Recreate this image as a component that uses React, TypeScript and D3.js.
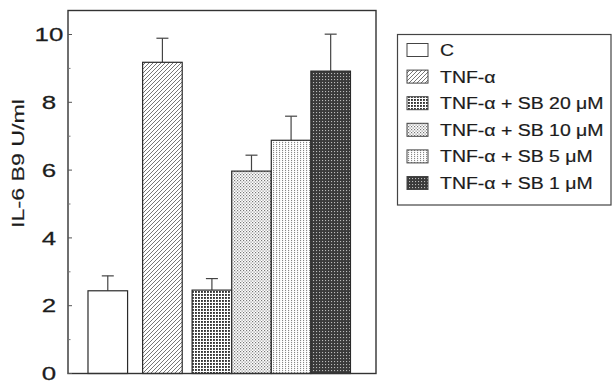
import React from 'react';
import * as d3 from 'd3';

const CATEGORIES = ['C', 'TNF-α', 'TNF-α + SB 20 μM', 'TNF-α + SB 10 μM', 'TNF-α + SB 5 μM', 'TNF-α + SB 1 μM'];
const MEANS = [2.44, 9.18, 2.46, 5.97, 6.88, 8.92];
const ERRORS = [0.44, 0.71, 0.34, 0.47, 0.71, 1.09];
const PATTERNS = ['none', 'hatch', 'grid', 'stipple', 'vstip', 'dark'];
const MAJOR_TICKS = [0, 2, 4, 6, 8, 10];
const MINOR_TICKS = [1, 3, 5, 7, 9];
const Y_LABEL = 'IL-6 B9 U/ml';

const W = 612;
const H = 383;
const plot = { left: 68, right: 376, top: 10.5, bottom: 373.5 };
// layout in bar-width units
const LEFT_PAD = 0.505;
const GAP_AFTER = [0.38, 0.25, 0, 0, 0];
const INK = '#1c1c1c';
const FONT = 'Arial, "Liberation Sans", Helvetica, sans-serif';

export default function App() {
  const y = d3.scaleLinear().domain([0, 10]).range([plot.bottom, 34.5]);
  const x = d3.scaleLinear().domain([0, 7.78]).range([plot.left, plot.right]);
  const bw = x(1) - x(0);

  const starts: number[] = [];
  let acc = LEFT_PAD;
  CATEGORIES.forEach((_, i) => {
    starts.push(acc);
    acc += 1 + (GAP_AFTER[i] || 0);
  });

  const fillFor = (p: string) => (p === 'none' ? '#fff' : `url(#${p})`);

  const legendX = 407;
  const legendY0 = 50;
  const legendStep = 26.6;

  return (
    <svg width={W} height={H} style={{ position: 'absolute', left: 0, top: 0, background: '#fff' }}>
      <defs>
        <pattern id="hatch" width="4" height="4" patternUnits="userSpaceOnUse">
          <rect width="4" height="4" fill="#fff" />
          <path d="M-1,1 l2,-2 M0,4 l4,-4 M3,5 l2,-2" stroke="#666" strokeWidth="0.9" />
        </pattern>
        <pattern id="grid" width="3" height="3" patternUnits="userSpaceOnUse">
          <rect width="3" height="3" fill="#fff" />
          <rect width="1.9" height="1.9" fill="#333" />
        </pattern>
        <pattern id="stipple" width="3" height="3" patternUnits="userSpaceOnUse">
          <rect width="3" height="3" fill="#fff" />
          <rect width="1.2" height="1.2" fill="#777" />
          <rect x="1.5" y="1.5" width="1.2" height="1.2" fill="#888" />
        </pattern>
        <pattern id="vstip" width="3" height="2" patternUnits="userSpaceOnUse">
          <rect width="3" height="2" fill="#fff" />
          <rect width="1.1" height="1.1" fill="#888" />
        </pattern>
        <pattern id="dark" width="3" height="3" patternUnits="userSpaceOnUse">
          <rect width="3" height="3" fill="#3a3a3a" />
          <rect x="1" y="1" width="1.1" height="1.1" fill="#bbb" />
        </pattern>
      </defs>

      {/* bars */}
      {MEANS.map((v, i) => {
        const x0 = x(starts[i]);
        const cx = x0 + bw / 2;
        return (
          <g key={i}>
            <line x1={cx} x2={cx} y1={y(v)} y2={y(v + ERRORS[i])} stroke="#444" strokeWidth={1.2} />
            <line x1={cx - 6} x2={cx + 6} y1={y(v + ERRORS[i])} y2={y(v + ERRORS[i])} stroke="#444" strokeWidth={1.2} />
            <rect x={x0} y={y(v)} width={bw} height={y(0) - y(v)} fill={fillFor(PATTERNS[i])} stroke="#2a2a2a" strokeWidth={1.2} />
          </g>
        );
      })}

      {/* frame */}
      <rect x={plot.left} y={plot.top} width={plot.right - plot.left} height={plot.bottom - plot.top}
        fill="none" stroke="#333" strokeWidth={1.4} />

      {/* ticks */}
      {MAJOR_TICKS.map(t => (
        <g key={'M' + t}>
          <line x1={plot.left} x2={plot.left + 4} y1={y(t)} y2={y(t)} stroke="#555" strokeWidth={1} />
          <text transform={`translate(49,${y(t)}) scale(1.4,1)`} textAnchor="middle" dy="0.36em"
            fontFamily={FONT} fontSize={18.5} fill={INK} stroke={INK} strokeWidth={0.25}>{t}</text>
        </g>
      ))}
      {MINOR_TICKS.map(t => (
        <line key={'m' + t} x1={plot.left} x2={plot.left + 2.5} y1={y(t)} y2={y(t)} stroke="#777" strokeWidth={1} />
      ))}

      <text transform={`translate(18,163.5) rotate(-90) scale(1.45,1)`} textAnchor="middle" dy="0.36em"
        fontFamily={FONT} fontSize={16} fill={INK} stroke={INK} strokeWidth={0.2}>{Y_LABEL}</text>

      {/* legend */}
      <rect x={397.5} y={34.5} width={213.5} height={170.5} fill="none" stroke="#444" strokeWidth={1.2} />
      {CATEGORIES.map((c, i) => {
        const cy = legendY0 + i * legendStep;
        return (
          <g key={c}>
            <rect x={legendX} y={cy - 6.5} width={21} height={13} fill={fillFor(PATTERNS[i])} stroke="#444" strokeWidth={1} />
            <text transform={`translate(440,${cy}) scale(1.18,1)`} dy="0.36em" fontFamily={FONT} fontSize={16.5}
              fill={INK} stroke={INK} strokeWidth={0.2}>{c}</text>
          </g>
        );
      })}
    </svg>
  );
}
